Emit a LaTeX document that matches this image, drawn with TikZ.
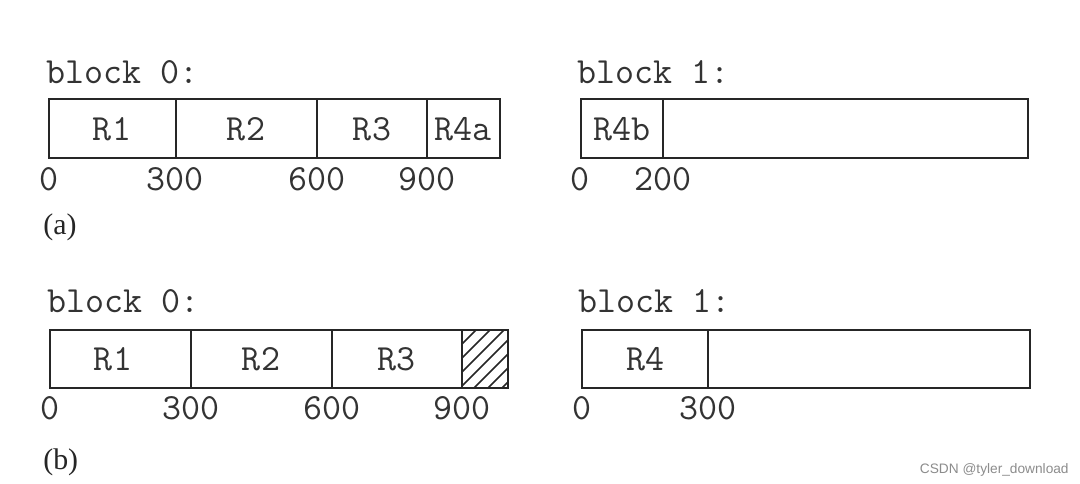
\documentclass[tikz,border=0pt]{standalone}
\usepackage{fontspec}
\newfontfamily\capfont{Liberation Serif}
\newfontfamily\markfont{Liberation Sans}
\tikzset{
  cellbox/.style={draw=black!85,line width=0.9pt},
  celltxt/.style={font=\ttfamily\fontsize{21}{23}\selectfont,text=black!80,inner sep=0pt},
  blktxt/.style={font=\ttfamily\fontsize{21}{23}\selectfont,text=black!80,anchor=west,inner sep=0pt},
  numtxt/.style={font=\ttfamily\fontsize{21}{23}\selectfont,text=black!80,inner sep=0pt},
  captxt/.style={font=\capfont\fontsize{17}{19}\selectfont,text=black!85,anchor=west,inner sep=0pt},
}
\begin{document}
\begin{tikzpicture}[x=0.02cm,y=-0.02cm]
\useasboundingbox[fill=white] (0,0) rectangle (1080,484);

% (a) block 0
\node[blktxt] (blkA0) at (46,72) {block 0:};
\draw[cellbox] (49,99) rectangle (500,158);
\draw[cellbox] (176,99) -- (176,158);
\draw[cellbox] (317,99) -- (317,158);
\draw[cellbox] (427,99) -- (427,158);
\node[celltxt] (aR1) at (112,129) {R1};
\node[celltxt] (aR2) at (246,129) {R2};
\node[celltxt] (aR3) at (372,129) {R3};
\node[celltxt] (aR4a) at (463,129) {R4a};
\node[numtxt] (aN0) at (49,179) {0};
\node[numtxt] (aN300) at (175,179) {300};
\node[numtxt] (aN600) at (317,179) {600};
\node[numtxt] (aN900) at (427,179) {900};

% (a) block 1
\node[blktxt] (blkA1) at (577,72) {block 1:};
\draw[cellbox] (581,99) rectangle (1028,158);
\draw[cellbox] (663,99) -- (663,158);
\node[celltxt] (aR4b) at (622,129) {R4b};
\node[numtxt] (aM0) at (580,179) {0};
\node[numtxt] (aM200) at (663,179) {200};

\node[captxt] (capA) at (43,227) {(a)};

% (b) block 0
\node[blktxt] (blkB0) at (47,301) {block 0:};
\begin{scope}
\clip (462,330) rectangle (508,388);
\foreach \hx in {404,418,...,520}
  \draw[line width=0.9pt,black!85] (\hx,388) -- ++(60,-60);
\end{scope}
\draw[cellbox] (50,330) rectangle (508,388);
\draw[cellbox] (191,330) -- (191,388);
\draw[cellbox] (332,330) -- (332,388);
\draw[cellbox] (462,330) -- (462,388);
\node[celltxt] (bR1) at (113,359) {R1};
\node[celltxt] (bR2) at (261,359) {R2};
\node[celltxt] (bR3) at (396,359) {R3};
\node[numtxt] (bN0) at (50,408) {0};
\node[numtxt] (bN300) at (191,408) {300};
\node[numtxt] (bN600) at (332,408) {600};
\node[numtxt] (bN900) at (462,408) {900};

% (b) block 1
\node[blktxt] (blkB1) at (578,301) {block 1:};
\draw[cellbox] (582,330) rectangle (1030,388);
\draw[cellbox] (708,330) -- (708,388);
\node[celltxt] (bR4) at (645,359) {R4};
\node[numtxt] (bM0) at (582,408) {0};
\node[numtxt] (bM300) at (708,408) {300};

\node[captxt] (capB) at (43,462) {(b)};

\node[font=\markfont\fontsize{7.8}{9}\selectfont,text=black!45,anchor=east,inner sep=0pt] (wmark) at (1069,470) {CSDN @tyler\_download};
\end{tikzpicture}
\end{document}
